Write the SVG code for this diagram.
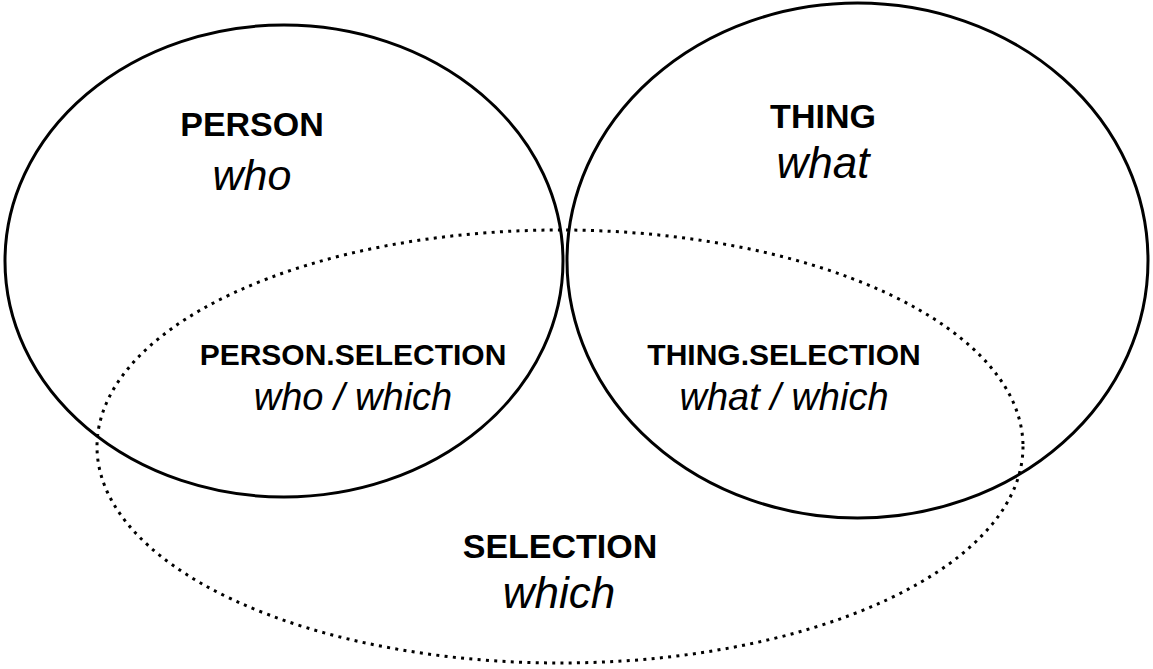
<svg xmlns="http://www.w3.org/2000/svg" width="1153" height="669" viewBox="0 0 1153 669">
  <style>
    .set { fill: none; stroke: #000; stroke-width: 3; }
    .dotted { stroke-dasharray: 3 5.3; stroke-linecap: butt; }
    .t { font-family: "Liberation Sans", Arial, Helvetica, sans-serif; fill: #000; text-anchor: middle; }
    .b { font-weight: bold; }
    .i { font-style: italic; }
  </style>
  <rect width="1153" height="669" fill="#fff"/>
  <g id="person">
    <ellipse class="set" cx="284" cy="261" rx="279" ry="236"/>
    <text class="t b" x="252" y="136" font-size="34">PERSON</text>
    <text class="t i" x="252" y="190" font-size="43">who</text>
  </g>
  <g id="thing">
    <ellipse class="set" cx="857.5" cy="260.5" rx="290.5" ry="257.5"/>
    <text class="t b" x="823" y="128" font-size="34">THING</text>
    <text class="t i" x="823" y="178" font-size="44">what</text>
  </g>
  <g id="selection">
    <ellipse class="set dotted" cx="560" cy="446.5" rx="463" ry="216.5"/>
    <text class="t b" x="560" y="558" font-size="34">SELECTION</text>
    <text class="t i" x="559" y="608" font-size="44">which</text>
  </g>
  <g id="person-selection">
    <text class="t b" x="353" y="365" font-size="30">PERSON.SELECTION</text>
    <text class="t i" x="353" y="410" font-size="38">who / which</text>
  </g>
  <g id="thing-selection">
    <text class="t b" x="784" y="365" font-size="30">THING.SELECTION</text>
    <text class="t i" x="784" y="410" font-size="38">what / which</text>
  </g>
  <g id="connectors"/>
</svg>
